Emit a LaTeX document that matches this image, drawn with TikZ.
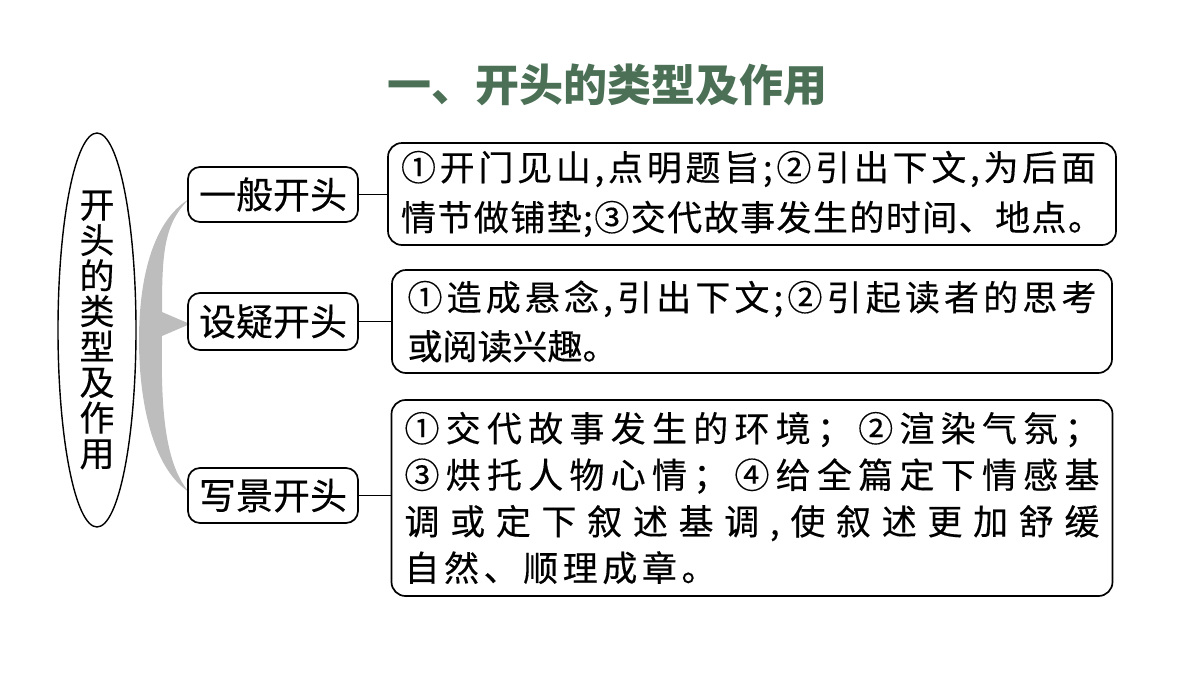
\documentclass[tikz,border=0pt]{standalone}
\usepackage{fontspec}
\setmainfont{Noto Sans CJK SC}
\newfontfamily\boxfont[FakeBold=0.35]{Noto Sans CJK SC}
\usetikzlibrary{shapes.geometric}
\definecolor{titlegreen}{HTML}{4B7056}
\definecolor{bracegray}{HTML}{BDBDBD}
% spread the characters of #2 evenly over width #1
\def\spreadi#1{#1\spreadii}
\def\spreadii#1{\ifx\relax#1\else\hfil#1\expandafter\spreadii\fi}
\newcommand\spreadline[2]{\makebox[#1pt][s]{\spreadi#2\relax}}
\tikzset{
  bigbox/.style={draw, line width=1.7pt, rounded corners=14pt, minimum width=720pt,
    inner xsep=13pt, inner ysep=0pt, align=left},
  labelbox/.style={draw, line width=1.7pt, rounded corners=12pt, minimum width=170pt,
    minimum height=55pt, inner sep=0pt, font=\boxfont\fontsize{37}{37}\selectfont},
  link/.style={line width=1.7pt},
}
\begin{document}
\begin{tikzpicture}[x=1pt,y=-1pt]
\useasboundingbox (0,0) rectangle (1200,675);
% title
\node[text=titlegreen, font=\fontsize{44}{44}\selectfont\bfseries] (title) at (607,85) {一、开头的类型及作用};
% brace
\fill[bracegray] (189,199) .. controls (152,222) and (139,280) .. (139,340)
  .. controls (139,400) and (152,468) .. (189,492)
  .. controls (163,462) and (161,400) .. (162,336) -- (190,324) -- (162,312)
  .. controls (162,252) and (164,224) .. (189,199) -- cycle;
% root ellipse
\node[draw, ellipse, line width=1.4pt, minimum width=78pt, minimum height=336pt, inner sep=0pt,
  align=center, font=\boxfont\fontsize{35}{35.5}\selectfont] (root) at (97,330)
  {开\\头\\的\\类\\型\\及\\作\\用};
% label boxes
\node[labelbox] (lb1) at (273,194.5) {一般开头};
\node[labelbox, minimum height=57pt] (lb2) at (273,321.5) {设疑开头};
\node[labelbox] (lb3) at (273,495.5) {写景开头};
% content boxes
\node[bigbox, minimum height=102pt, font=\boxfont\fontsize{35}{50}\selectfont] (box1) at (752,194)
  {\spreadline{695}{①开门见山,点明题旨;②引出下文,为后面}\\
   \spreadline{702}{情节做铺垫;③交代故事发生的时间、地点。}};
\node[bigbox, minimum height=103pt, font=\boxfont\fontsize{35}{49}\selectfont] (box2) at (752,321.5)
  {\spreadline{689}{①造成悬念,引出下文;②引起读者的思考}\\
   \spreadline{198}{或阅读兴趣。}};
\node[bigbox, minimum height=196pt, font=\boxfont\fontsize{35}{46.5}\selectfont] (box3) at (752,498)
  {\spreadline{695}{①交代故事发生的环境；②渲染气氛；}\\
   \spreadline{695}{③烘托人物心情；④给全篇定下情感基}\\
   \spreadline{695}{调或定下叙述基调,使叙述更加舒缓}\\
   \spreadline{312}{自然、顺理成章。}};
% connectors
\draw[link] (lb1.east) -- (lb1.east -| box1.west);
\draw[link] (lb2.east) -- (lb2.east -| box2.west);
\draw[link] (lb3.east) -- (lb3.east -| box3.west);
\end{tikzpicture}
\end{document}
